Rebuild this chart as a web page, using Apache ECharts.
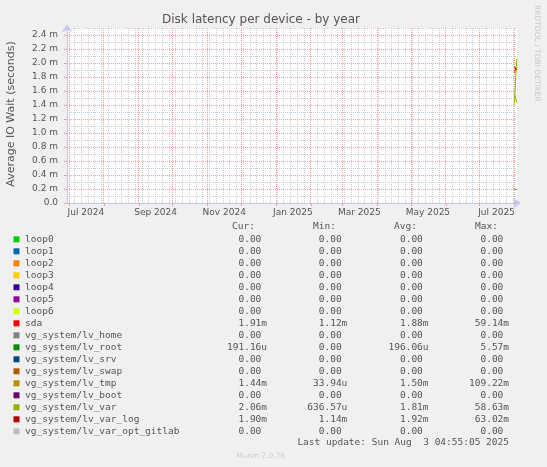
<!DOCTYPE html>
<html>
<head>
<meta charset="utf-8">
<script src="https://cdn.jsdelivr.net/npm/echarts@6/dist/echarts.min.js"></script>
<style>
html, body { margin: 0; padding: 0; background: #f0f0f0; }
#chart { width: 547px; height: 467px; }
</style>
</head>
<body>
<div id="chart"></div>
<script>
// munin "diskstats_latency" by year, values in milliseconds
const devices = ['loop0', 'loop1', 'loop2', 'loop3', 'loop4', 'loop5', 'loop6', 'sda',
    'vg_system/lv_home', 'vg_system/lv_root', 'vg_system/lv_srv', 'vg_system/lv_swap',
    'vg_system/lv_tmp', 'vg_system/lv_boot', 'vg_system/lv_var', 'vg_system/lv_var_log',
    'vg_system/lv_var_opt_gitlab'];
const colors = ['#00CC00', '#0066B3', '#FF8000', '#FFCC00', '#330099', '#990099', '#CCFF00', '#FF0000',
    '#808080', '#008F00', '#00487D', '#B35A00', '#B38F00', '#6B006B', '#8FB300', '#B30000', '#BEBEBE'];

// only the last days have data
const days = ['2025-08-01', '2025-08-02', '2025-08-03'];
const loop0 = [0, 0, 0];
const loop1 = [0, 0, 0];
const loop2 = [0, 0, 0];
const loop3 = [0, 0, 0];
const loop4 = [0, 0, 0];
const loop5 = [0, 0, 0];
const loop6 = [0, 0, 0];
const sda = [1.86, 1.93, 1.91];
const lvHome = [0, 0, 0];
const lvRoot = [0.20, 0.196, 0.191];
const lvSrv = [0, 0, 0];
const lvSwap = [0, 0, 0];
const lvTmp = [1.55, 1.50, 1.44];
const lvBoot = [0, 0, 0];
const lvVar = [1.42, 1.78, 2.06];
const lvVarLog = [1.95, 1.92, 1.90];
const lvVarOptGitlab = [0, 0, 0];
const seriesValues = [loop0, loop1, loop2, loop3, loop4, loop5, loop6, sda, lvHome, lvRoot,
    lvSrv, lvSwap, lvTmp, lvBoot, lvVar, lvVarLog, lvVarOptGitlab];

// legend table (ms)
const curValues = [0, 0, 0, 0, 0, 0, 0, 1.91, 0, 0.19116, 0, 0, 1.44, 0, 2.06, 1.90, 0];
const minValues = [0, 0, 0, 0, 0, 0, 0, 1.12, 0, 0, 0, 0, 0.03394, 0, 0.63657, 1.14, 0];
const avgValues = [0, 0, 0, 0, 0, 0, 0, 1.88, 0, 0.19606, 0, 0, 1.50, 0, 1.81, 1.92, 0];
const maxValues = [0, 0, 0, 0, 0, 0, 0, 59.14, 0, 5.57, 0, 0, 109.22, 0, 58.63, 63.02, 0];

// axes
const monthTicks = ['2024-07-01', '2024-08-01', '2024-09-01', '2024-10-01', '2024-11-01', '2024-12-01',
    '2025-01-01', '2025-02-01', '2025-03-01', '2025-04-01', '2025-05-01', '2025-06-01', '2025-07-01', '2025-08-01'];
const xLabelDates = ['2024-07-16', '2024-09-16', '2024-11-16', '2025-01-16', '2025-03-16', '2025-05-16', '2025-07-16'];
const xLabels = ['Jul 2024', 'Sep 2024', 'Nov 2024', 'Jan 2025', 'Mar 2025', 'May 2025', 'Jul 2025'];
const yTicks = [0, 0.2, 0.4, 0.6, 0.8, 1.0, 1.2, 1.4, 1.6, 1.8, 2.0, 2.2, 2.4];
const yLabels = ['0.0', '0.2 m', '0.4 m', '0.6 m', '0.8 m', '1.0 m', '1.2 m', '1.4 m', '1.6 m', '1.8 m',
    '2.0 m', '2.2 m', '2.4 m'];

const DAY = 86400000;
const ts = d => Date.parse(d + 'T00:00:00Z');
const xEnd = Date.UTC(2025, 7, 3, 4, 55, 5);
const xStart = xEnd - 400 * DAY;

// minor grid: every 6 days / every 0.1 m
const minorX = [];
for (let t = ts('2024-06-30'); t < xEnd; t += 6 * DAY) minorX.push(t);
const minorY = [];
for (let k = 1; k <= 25; k += 2) minorY.push(k / 10);

const xLabelMap = {};
xLabelDates.forEach((d, i) => { xLabelMap[ts(d)] = xLabels[i]; });

const TEXT = '#555';
const MONO = '"DejaVu Sans Mono", monospace';
const SANS = '"DejaVu Sans", sans-serif';
const axisBlue = '#c6c6f4';
const majorColor = '#f0a0a0';
const minorColor = '#cfcfcf';

function fmt(v) {
    let num, unit;
    if (v === 0) { num = '0.00'; unit = ''; }
    else if (v >= 1) { num = v.toFixed(2); unit = 'm'; }
    else { num = (v * 1000).toFixed(2); unit = 'u'; }
    return num.padStart(6, ' ') + unit;
}

// dotted grid lines, snapped to whole pixels so they stay crisp
const snap = v => Math.round(v - 0.5) + 0.5;
function gridSeries(xs, ys, color, z) {
    const data = xs.map(v => [v, 0, 0]).concat(ys.map(v => [xStart, v, 1]));
    return {
        type: 'custom', z: z, silent: true,
        data: data,
        renderItem: (params, api) => {
            const cs = params.coordSys;
            const p = api.coord([api.value(0), api.value(1)]);
            const shape = api.value(2) === 0
                ? { x1: snap(p[0]), y1: cs.y, x2: snap(p[0]), y2: cs.y + cs.height }
                : { x1: cs.x, y1: snap(p[1]), x2: cs.x + cs.width, y2: snap(p[1]) };
            return { type: 'line', shape: shape, style: { stroke: color, lineWidth: 1, lineDash: [1, 1] } };
        }
    };
}

const rowY0 = 239.3, rowH = 12;
const colX = [227, 307.3, 388.5, 469];
const headX = [232, 313, 394, 475];
const graphics = [
    { type: 'text', x: 261, y: 20, style: { text: 'Disk latency per device - by year', font: '12px ' + SANS, fill: TEXT, align: 'center', verticalAlign: 'middle' } },
    { type: 'text', x: 11, y: 114, rotation: Math.PI / 2, style: { text: 'Average IO Wait (seconds)', font: '11px ' + SANS, fill: TEXT, align: 'center', verticalAlign: 'middle' } },
    { type: 'text', x: 537, y: 5, rotation: -Math.PI / 2, style: { text: 'RRDTOOL / TOBI OETIKER', font: '7.5px ' + SANS, fill: '#c8c8c8', align: 'left', verticalAlign: 'middle' } },
    { type: 'text', x: 509, y: 442.7, style: { text: 'Last update: Sun Aug  3 04:55:05 2025', font: '9.5px ' + MONO, fill: TEXT, align: 'right', verticalAlign: 'middle' } },
    { type: 'text', x: 260.7, y: 456.3, style: { text: 'Munin 2.0.76', font: '7.5px ' + SANS, fill: '#cfcfcf', align: 'center', verticalAlign: 'middle' } }
];
['Cur:', 'Min:', 'Avg:', 'Max:'].forEach((h, j) => {
    graphics.push({ type: 'text', x: headX[j], y: 226.7, style: { text: h, font: '9.5px ' + MONO, fill: TEXT, align: 'left', verticalAlign: 'middle' } });
});
devices.forEach((name, i) => {
    const y = rowY0 + i * rowH;
    graphics.push({ type: 'rect', shape: { x: 13.5, y: y - 3, width: 6, height: 6 }, style: { fill: colors[i] } });
    graphics.push({ type: 'text', x: 25, y: y, style: { text: name, font: '9.5px ' + MONO, fill: TEXT, align: 'left', verticalAlign: 'middle' } });
    [curValues, minValues, avgValues, maxValues].forEach((col, j) => {
        graphics.push({ type: 'text', x: colX[j], y: y, style: { text: fmt(col[i]), font: '9.5px ' + MONO, fill: TEXT, align: 'left', verticalAlign: 'middle' } });
    });
});

const dataSeries = devices.map((name, i) => ({
    name: name,
    type: 'line',
    z: 3,
    showSymbol: false,
    symbol: 'none',
    color: colors[i],
    lineStyle: { width: 1, color: colors[i] },
    data: days.map((d, k) => [ts(d), seriesValues[i][k]])
}));

const chart = echarts.init(document.getElementById('chart'));
chart.setOption({
    animation: false,
    backgroundColor: '#f0f0f0',
    grid: { left: 67, right: 30, top: 28, bottom: 264, show: true, backgroundColor: '#fff', borderWidth: 0, outerBoundsMode: 'none' },
    xAxis: {
        type: 'value', min: xStart, max: xEnd, z: 4,
        axisLine: { show: true, symbol: ['none', 'arrow'], symbolSize: [8, 8], symbolOffset: [0, 4], lineStyle: { color: axisBlue } },
        axisTick: { show: true, interval: 0, length: 3, customValues: monthTicks.map(ts), lineStyle: { color: majorColor } },
        axisLabel: { show: true, interval: 0, customValues: xLabelDates.map(ts), margin: 5, color: TEXT, fontSize: 9, fontFamily: SANS, formatter: v => xLabelMap[v] || '' },
        splitLine: { show: false }
    },
    yAxis: {
        type: 'value', min: 0, max: 2.5, z: 4,
        axisLine: { show: true, symbol: ['none', 'arrow'], symbolSize: [8, 8], symbolOffset: [0, 4], lineStyle: { color: axisBlue } },
        axisTick: { show: true, interval: 0, length: 3, customValues: yTicks, lineStyle: { color: majorColor } },
        axisLabel: { show: true, interval: 0, customValues: yTicks, margin: 9, color: TEXT, fontSize: 9, fontFamily: SANS, formatter: v => yLabels[Math.round(v / 0.2)] },
        splitLine: { show: false }
    },
    series: [
        gridSeries(minorX, minorY, minorColor, 1),
        gridSeries(monthTicks.map(ts), yTicks.slice(1), majorColor, 2)
    ].concat(dataSeries),
    graphic: graphics
});
</script>
</body>
</html>
